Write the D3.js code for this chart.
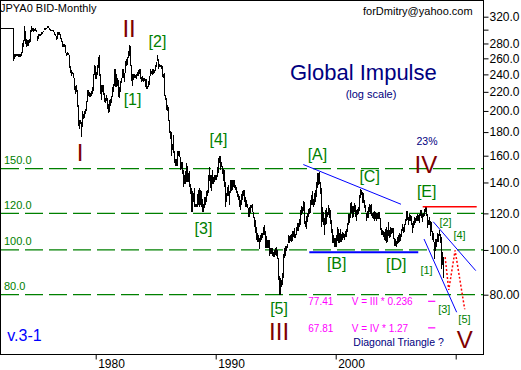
<!DOCTYPE html>
<html>
<head>
<meta charset="utf-8">
<style>
body { margin: 0; background: #fff; }
svg { display: block; font-family: "Liberation Sans", Arial, sans-serif; }
</style>
</head>
<body>
<svg width="521" height="370"></svg>
<script src="https://d3js.org/d3.v7.min.js"></script>
<script>
// monthly USD/JPY bars, one row per year, Jan..Dec
var startYear = 1972;

var lows = [
  [301,301,301,301,301,301,301,301,301,301,301,301],             // 1972
  [301,257,259,262,263,263,262,262,262,263,267,275],             // 1973
  [283,279,275,276,277,280,282,296,298,297,298,298],             // 1974
  [296,284,286,290,290,292,294,296,300,300,301,302],             // 1975
  [302,300,298,298,298,296,292,290,285,286,292,292],             // 1976
  [287,282,275,275,275,267,263,265,264,248,242,238],             // 1977
  [240,236,222,218,220,204,186,183,187,176,185,192],             // 1978
  [193,197,200,209,216,214,214,215,218,221,239,235],             // 1979
  [234,239,248,238,218,211,220,217,209,208,210,202],             // 1980
  [198,199,205,208,214,220,226,225,225,227,214,213],             // 1981
  [220,230,236,236,231,242,250,252,260,263,250,232],             // 1982
  [227,233,236,236,235,238,238,241,235,231,232,231],             // 1983
  [232,225,223,223,225,228,238,240,239,241,242,244],             // 1984
  [249,257,246,249,249,246,237,236,216,211,201,200],             // 1985
  [190,179,174,160,165,162,154,152,152,152,160,159],             // 1986
  [149,150,146,137,139,139,140,140,140,137,132,121],             // 1987
  [121,127,124,124,124,124,125,124,125,124,121,121],             // 1988
  [123,125,127,131,133,141,136,134,139,139,140,142],             // 1989
  [142,144,147,154,149,151,146,141,137,124,127,131],             // 1990
  [131,125,133,134,135,137,136,135,133,130,128,124],             // 1991
  [122,125,128,131,127,124,124,123,118,118,120,123],             // 1992
  [121,117,112,109,105,104,104,100.5,104,105,106,108],           // 1993
  [108,101,101,101,101,97,98,98,97,96.5,96.5,97.5],              // 1994
  [97,95.5,86,79.8,80,83,84,87,96,97,99.5,101],                  // 1995
  [103.5,103.5,104.5,104,104.5,106.5,106,106,108,110,110,112],   // 1996
  [113,119,120,121.5,114,112,111,115,118,119.5,120,125],         // 1997
  [125,124,125,127,130,136,138,139,132,112,115,113],             // 1998
  [108,113,114,118,119,117,114,109,103.5,103.5,101.5,101.3],     // 1999
  [101.5,104.5,103.5,103.5,104,104,105,106,105,106.5,106.5,109.5], // 2000
  [113.5,114.5,117,120.5,117,118,121,118,115.8,119,119.5,121.5], // 2001
  [129.5,131.5,126.5,126.5,123,121,115.5,117,117.5,121,119.5,118.5], // 2002
  [117,116.5,115.5,116.5,115.5,116.5,116.7,116.5,110.5,107.5,107.5,106.8], // 2003
  [105.2,104.5,103.5,103.8,107,106.2,106.8,108.1,108.9,105.6,101.8,101.8], // 2004
  [101.7,103.2,103.5,104,104.5,106.6,109.9,108.8,109.5,113.5,115.7,115.9], // 2005
  [113.4,115.4,115.8,113.4,108.9,111.8,113.5,114.4,115.5,115.5,115.3,114.5], // 2006
  [118.2,117.5,115.1,117.6,118.2,121,118.4,111.6,113.2,113.3,107.2,109.5], // 2007
  [104.9,104.3,95.8,99.4,101.5,104,103.8,107.2,103.5,90.9,92.6,87.1]  // 2008
];

var highs = [
  [304,303,303,303,303,303,303,303,303,303,303,303],             // 1972
  [303,302,266,266,266,266,266,266,266,268,281,285],             // 1973
  [305,298,286,285,285,287,300,305,303,302,301,303],             // 1974
  [300,291,293,294,293,297,297,298,303,303,303,306],             // 1975
  [305,303,301,300,300,299,296,294,290,296,297,296],             // 1976
  [293,288,283,279,279,278,267,268,267,264,250,245],             // 1977
  [243,242,236,226,228,222,206,191,191,189,200,197],             // 1978
  [200,202,210,222,222,220,219,221,225,240,251,250],             // 1979
  [243,252,262,264,240,228,228,228,219,213,217,213],             // 1980
  [207,211,212,216,225,229,246,246,240,236,233,225],             // 1981
  [232,236,247,246,242,256,259,262,270,278,276,252],             // 1982
  [240,240,241,239,240,243,245,247,246,237,238,236],             // 1983
  [236,234,234,226,232,238,246,244,246,246,245,251],             // 1984
  [255,264,259,253,252,251,250,240,242,217,213,206],             // 1985
  [204,191,181,180,170,177,164,157,157,164,164,164],             // 1986
  [159,155,155,149,145,148,154,152,147,148,139,136],             // 1987
  [134,133,136,126,126,132,135,136,135,134,129,126],             // 1988
  [130,130,134,135,145,151,145,145,149,144,145,145],             // 1989
  [145,151,158,160,160,155,152,150,149,140,133,137],             // 1990
  [138,134,142,142,142,142,142,138,137,134,132,131],             // 1991
  [128,132,134,135,135,130,128,126,123,124,125,125],             // 1992
  [126,121,118,116,112,109,108,106,108,109,109,112],             // 1993
  [113,110,107,105,105,105,101,101,101,99,100,101],              // 1994
  [101.5,100,96,88,87,86,89,98,101,102,102,103],                 // 1995
  [108,107,108,108.5,110,110,111.5,108.5,112,114.5,114.5,116.5], // 1996
  [122,124.5,124,127.5,127,115.5,118.5,120,122.5,123.5,128,131.5], // 1997
  [134,129,133,135,140,147,147,147.6,140,136,124,121],           // 1998
  [117,122,123,121,125,123,122,116,111,108,106,106],             // 1999
  [108,112,111,109,111,108.5,109.5,109,108.5,110,111,114.5],     // 2000
  [119.5,119.5,126.5,126.8,124.5,124.8,126.5,125,122,122.7,124,131.5], // 2001
  [135.2,135,133.8,133,128.5,125,120,121.5,124,125.5,125,125.5], // 2002
  [120,121,121.5,121,120.5,120.5,120.8,121,117.5,111.5,110.5,110], // 2003
  [109.2,111.1,112.2,110.4,114.9,110.5,111.9,111.3,111.5,111.7,106.3,105.8], // 2004
  [104.8,106.8,107.6,108.7,108.5,111.2,113.7,112.3,113.8,116.4,121.4,121.3], // 2005
  [117.9,119.4,119.1,118.6,114.6,115.6,117.9,117.5,118.3,119.9,119,119.5], // 2006
  [122.1,122.2,119.9,120.4,122.4,124.1,123.9,119.8,116.3,117.9,115.4,114.7], // 2007
  [110,108.6,104.2,105.8,105.5,108.6,108.5,110.6,108.5,106.5,99.2,96.7]  // 2008
];

var yTicks = [80, 100, 120, 140, 160, 180, 200, 220, 240, 260, 280, 300, 320];
var xTicks = [1980, 1990, 2000, 2010];
var levels = [150, 120, 100, 80];

// wave labels: text, [year, price] anchor
var bigWaves = [
  ["[1]", 1983.07, 205.7], ["[2]", 1985.15, 274.5], ["[3]", 1988.98, 108.1],
  ["[4]", 1990.23, 168.5], ["[5]", 1995.28, 72.7],
  ["[A]", 1998.48, 156.6], ["[B]", 2000.08, 90.8], ["[C]", 2002.83, 140.6],
  ["[D]", 2005.05, 90.5], ["[E]", 2007.58, 130.4]
];
var smallWaves = [
  ["[1]", 2007.57, 88.7], ["[2]", 2009.15, 112.9], ["[3]", 2009.05, 73.1],
  ["[4]", 2010.32, 105.8], ["[5]", 2010.73, 69.6]
];
var romans = [
  ["I", 1978.69, 156.1], ["II", 1982.78, 289.7], ["III", 1995.28, 63.8],
  ["IV", 2007.51, 146.6], ["V", 2010.75, 61.2]
];

var trendLines = [
  [[1997.3, 153.1], [2005.44, 125.6]],
  [[2008.13, 115.1], [2011.67, 90.2]],
  [[2007.36, 105.6], [2010.08, 73.3]]
];
var baseLine = [[1997.8, 98.8], [2006.88, 98.8]];
var topLine = [[2007.25, 124.1], [2011.75, 124.1]];
var projection = [[2009.12, 96.5], [2009.42, 81.9], [2009.95, 99.8], [2010.75, 74.4]];

var targets = [77.41, 67.81];
var formulas = ["V = III * 0.236", "V = IV * 1.27"];

var svg = d3.select("svg"),
    plotW = 483,
    plotH = 354;

var x = d3.scaleLinear().domain([1972, 2012.275]).range([-0.3, plotW]),
    y = d3.scaleLog().domain([80, 320]).range([294.7, 16.7]);

var line = d3.line()
    .x(function(d) { return x(d[0]); })
    .y(function(d) { return y(d[1]); });

svg.append("rect").attr("width", 521).attr("height", 370).attr("fill", "#fff");

// green support levels
var lev = svg.append("g");
lev.selectAll("line")
  .data(levels)
  .enter().append("line")
    .attr("x1", 1)
    .attr("x2", plotW)
    .attr("y1", function(d) { return y(d); })
    .attr("y2", function(d) { return y(d); })
    .attr("stroke", "#008000")
    .attr("stroke-width", 1.3)
    .attr("stroke-dasharray", "18,6");
lev.selectAll("text")
  .data(levels)
  .enter().append("text")
    .attr("x", 4)
    .attr("y", function(d) { return y(d) - 4.5; })
    .attr("fill", "#008000")
    .attr("font-size", 11)
    .text(function(d) { return d.toFixed(1); });

// price bars
var bars = [];
lows.forEach(function(row, yi) {
  row.forEach(function(lo, m) {
    bars.push({t: startYear + yi + m / 12, lo: lo, hi: highs[yi][m]});
  });
});

svg.append("g")
    .attr("shape-rendering", "crispEdges")
  .selectAll("rect")
  .data(bars)
  .enter().append("rect")
    .attr("x", function(d) { return Math.round(x(d.t)); })
    .attr("width", 1)
    .attr("y", function(d) { return y(d.hi); })
    .attr("height", function(d) { return Math.max(1, y(d.lo) - y(d.hi)); })
    .attr("fill", "#000");

// trend lines
svg.selectAll(".trend")
  .data(trendLines)
  .enter().append("path")
    .attr("class", "trend")
    .attr("d", line)
    .attr("fill", "none")
    .attr("stroke", "#0000ff")
    .attr("stroke-width", 1);

svg.append("path")
    .attr("d", line(baseLine))
    .attr("stroke", "#0000ff")
    .attr("stroke-width", 2);

svg.append("path")
    .attr("d", line(topLine))
    .attr("stroke", "#ff0000")
    .attr("stroke-width", 1.5);

svg.append("path")
    .attr("d", line(projection))
    .attr("fill", "none")
    .attr("stroke", "#ff0000")
    .attr("stroke-width", 1.5)
    .attr("stroke-dasharray", "2,2");

// fib targets
svg.selectAll(".tick-target")
  .data(targets)
  .enter().append("line")
    .attr("class", "tick-target")
    .attr("x1", x(2007.7))
    .attr("x2", x(2008.3))
    .attr("y1", function(d) { return y(d); })
    .attr("y2", function(d) { return y(d); })
    .attr("stroke", "#ff00ff")
    .attr("stroke-width", 1.2);

var tg = svg.append("g")
    .attr("fill", "#ff00ff")
    .attr("font-size", 10);
tg.selectAll(".val")
  .data(targets)
  .enter().append("text")
    .attr("x", 308.3)
    .attr("y", function(d) { return y(d); })
    .attr("dy", "0.4em")
    .text(function(d) { return d.toFixed(2); });
tg.selectAll(".frm")
  .data(targets)
  .enter().append("text")
    .attr("x", 351.7)
    .attr("y", function(d) { return y(d); })
    .attr("dy", "0.4em")
    .text(function(d, i) { return formulas[i]; });

// wave labels
function labels(data, size, color) {
  svg.append("g")
      .attr("fill", color)
      .attr("font-size", size)
      .attr("text-anchor", "middle")
    .selectAll("text")
    .data(data)
    .enter().append("text")
      .attr("x", function(d) { return x(d[1]); })
      .attr("y", function(d) { return y(d[2]); })
      .text(function(d) { return d[0]; });
}
labels(bigWaves, 16, "#008000");
labels(smallWaves, 11, "#008000");
labels(romans, 24, "#800000");

// texts
svg.append("text").attr("x", 0).attr("y", 12).attr("font-size", 11).text("JPYA0 BID-Monthly");
svg.append("text").attr("x", 363).attr("y", 14.7).attr("font-size", 11).text("forDmitry@yahoo.com");
svg.append("text").attr("x", 290).attr("y", 80).attr("font-size", 22).attr("fill", "#000080").text("Global Impulse");
svg.append("text").attr("x", 371).attr("y", 97.5).attr("font-size", 11).attr("text-anchor", "middle").attr("fill", "#000080").text("(log scale)");
svg.append("text").attr("x", 427).attr("y", 145).attr("font-size", 10.5).attr("text-anchor", "middle").attr("fill", "#000080").text("23%");
svg.append("text").attr("x", 353.3).attr("y", 345.7).attr("font-size", 10.5).attr("fill", "#000080").text("Diagonal Triangle ?");
svg.append("text").attr("x", 7.3).attr("y", 340.5).attr("font-size", 16).attr("fill", "#0000ff").text("v.3-1");

// frame and axes
svg.append("rect")
    .attr("x", 0.5).attr("y", 0.5)
    .attr("width", plotW).attr("height", plotH)
    .attr("fill", "none")
    .attr("stroke", "#000")
    .attr("shape-rendering", "crispEdges");

svg.append("g")
    .attr("transform", "translate(0," + (plotH + 0.5) + ")")
    .call(d3.axisBottom(x).tickValues(xTicks).tickSize(5).tickSizeOuter(0)
      .tickFormat(function(d) { return d === 2010 ? "" : d; }))
    .call(function(g) {
      g.attr("font-family", null).attr("font-size", 12);
      g.select(".domain").remove();
      g.selectAll("text").attr("text-anchor", "start").attr("x", 2).attr("y", 13.8).attr("dy", null);
    });

svg.append("g")
    .attr("transform", "translate(" + (plotW + 0.5) + ",0)")
    .call(d3.axisRight(y).tickValues(yTicks).tickSize(5).tickPadding(1).tickSizeOuter(0)
      .tickFormat(function(d) { return d === 300 ? "" : (d >= 100 ? d.toFixed(1) : d.toFixed(2)); }))
    .call(function(g) {
      g.attr("font-family", null).attr("font-size", 12);
      g.select(".domain").remove();
    });
</script>
</body>
</html>
